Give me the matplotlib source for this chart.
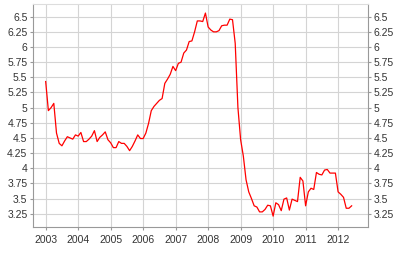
import numpy as np
import matplotlib.pyplot as plt

plt.rcParams["font.family"] = ["Liberation Sans", "DejaVu Sans"]

# Monthly values, Jan 2003 - Jun 2012
y2003 = [5.43, 4.95, 5.00, 5.07, 4.58, 4.41, 4.37, 4.45, 4.52, 4.50, 4.48, 4.55]
y2004 = [4.53, 4.59, 4.44, 4.44, 4.48, 4.53, 4.62, 4.44, 4.51, 4.55, 4.60, 4.47]
y2005 = [4.42, 4.34, 4.34, 4.44, 4.41, 4.41, 4.36, 4.29, 4.36, 4.45, 4.55, 4.49]
y2006 = [4.49, 4.58, 4.74, 4.95, 5.02, 5.07, 5.12, 5.15, 5.40, 5.47, 5.55, 5.68]
y2007 = [5.61, 5.73, 5.75, 5.90, 5.95, 6.09, 6.10, 6.25, 6.43, 6.43, 6.42, 6.56]
y2008 = [6.33, 6.28, 6.25, 6.25, 6.27, 6.35, 6.36, 6.36, 6.46, 6.45, 6.06, 5.00]
y2009 = [4.47, 4.20, 3.81, 3.61, 3.50, 3.38, 3.36, 3.28, 3.28, 3.32, 3.39, 3.38]
y2010 = [3.21, 3.43, 3.40, 3.30, 3.49, 3.51, 3.31, 3.49, 3.47, 3.45, 3.85, 3.79]
y2011 = [3.38, 3.61, 3.67, 3.65, 3.93, 3.90, 3.89, 3.97, 3.98, 3.92, 3.92, 3.92]
y2012 = [3.61, 3.57, 3.52, 3.34, 3.34, 3.38]

values = y2003 + y2004 + y2005 + y2006 + y2007 + y2008 + y2009 + y2010 + y2011 + y2012
t = 2003 + np.arange(len(values)) / 12.0

years = list(range(2003, 2013))
yticks = [3.25, 3.5, 3.75, 4, 4.25, 4.5, 4.75, 5, 5.25, 5.5, 5.75, 6, 6.25, 6.5]
ylabels = ["3.25", "3.5", "3.75", "4", "4.25", "4.5", "4.75", "5", "5.25", "5.5", "5.75", "6", "6.25", "6.5"]

fig = plt.figure(figsize=(4, 2.64), dpi=100)
ax = fig.add_axes([0.0825, 0.14, 0.8375, 0.845])
ax.plot(t, values, color="#ff0000", lw=0.9)

ax.set_xlim(2002.61, 2012.92)
ax.set_ylim(3.03, 6.71)
ax.set_xticks(years)
ax.set_xticklabels([str(y) for y in years])
ax.set_yticks(yticks)
ax.set_yticklabels(ylabels)
ax.grid(True, color="#d4d4d4", lw=0.8)
ax.set_axisbelow(True)

ax.tick_params(axis="y", which="both", left=True, right=True, labelleft=True,
               labelright=True, length=2, color="#999999", labelsize=7.5,
               labelcolor="#333333", pad=2)
ax.tick_params(axis="x", length=2, color="#999999", labelsize=7.5,
               labelcolor="#333333", pad=4)

for side in ["left", "right", "bottom"]:
    ax.spines[side].set_color("#999999")
    ax.spines[side].set_linewidth(0.8)
ax.spines["top"].set_color("#dddddd")
ax.spines["top"].set_linewidth(0.8)

fig.savefig("out.png", dpi=100)
